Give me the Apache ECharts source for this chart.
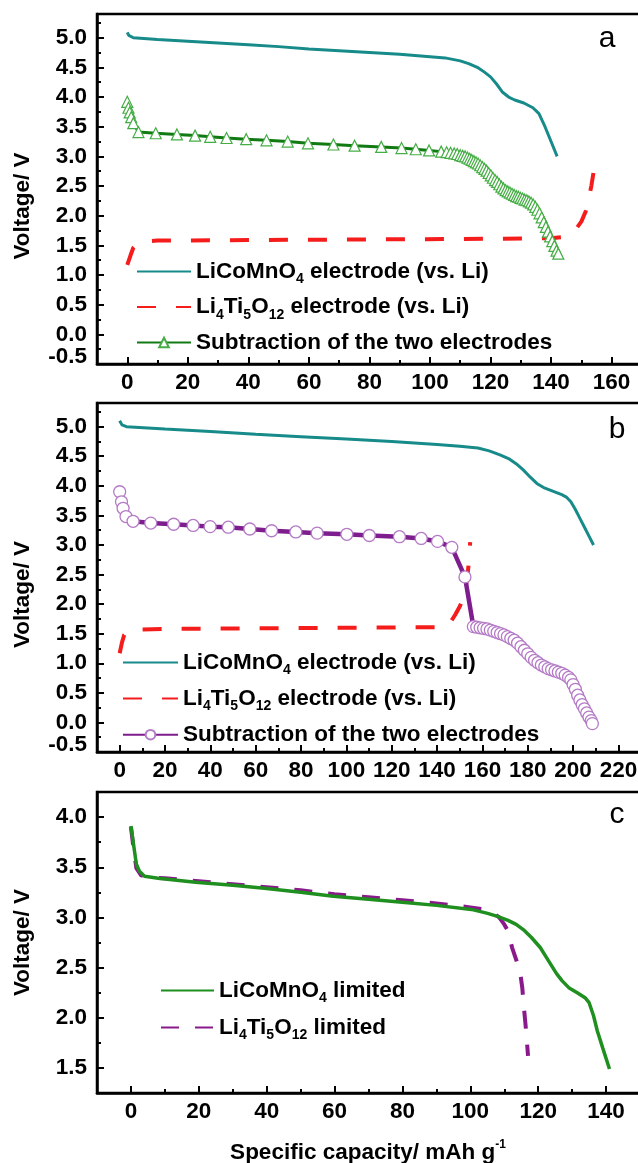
<!DOCTYPE html>
<html><head><meta charset="utf-8">
<script src="https://cdn.jsdelivr.net/npm/echarts@6/dist/echarts.min.js"></script>
<style>html,body{margin:0;padding:0;background:#fff}#c{width:638px;height:1163px}</style>
</head><body><div id="c"></div>
<script>
// ---------- tick values ----------
const aXTicks = [0,20,40,60,80,100,120,140,160];
const aXMinor = [10,30,50,70,90,110,130,150,170];
const bXTicks = [0,20,40,60,80,100,120,140,160,180,200,220];
const bXMinor = [10,30,50,70,90,110,130,150,170,190,210,230];
const cXTicks = [0,20,40,60,80,100,120,140];
const cXMinor = [10,30,50,70,90,110,130,150];
const abYTicks = [-0.5,0,0.5,1,1.5,2,2.5,3,3.5,4,4.5,5];
const abYMinor = [-0.25,0.25,0.75,1.25,1.75,2.25,2.75,3.25,3.75,4.25,4.75,5.25];
const cYTicks = [1.5,2,2.5,3,3.5,4];
const cYMinor = [1.75,2.25,2.75,3.25,3.75,4.25];

// ---------- panel a ----------
const aLiCoMnO = [[0,5.09],[0.5,5.04],[2,5.0],[10,4.97],[20,4.94],[30,4.91],[40,4.88],[50,4.85],[60,4.81],[70,4.78],[80,4.75],[90,4.72],[100,4.68],[105,4.66],[110,4.61],[113,4.56],[116,4.49],[118,4.42],[120,4.34],[122,4.22],[124,4.08],[126,4.0],[128,3.95],[131,3.9],[134,3.82],[136,3.72],[138,3.5],[140,3.25],[142,3.0]];
const aLTO = [[0,1.17],[1,1.32],[2,1.46],[3,1.52],[5,1.56],[10,1.58],[40,1.59],[80,1.6],[120,1.61],[140,1.62],[144,1.64],[146,1.68],[148,1.76],[150,1.9],[151.5,2.08],[152.5,2.3],[153.3,2.5],[154,2.72]];
const aSub = [[0,3.92],[0.4,3.82],[0.8,3.74],[1.3,3.66],[2,3.56],[3.7,3.41],[9.4,3.39],[16.4,3.37],[22.4,3.35],[27.4,3.33],[32.8,3.31],[39.3,3.29],[46,3.27],[53,3.25],[59.7,3.22],[68.1,3.2],[75.1,3.18],[83.9,3.16],[90.6,3.14],[95.3,3.12],[99.7,3.1],[103.7,3.08],[105.5,3.07],[106.8,3.06],[108,3.05],[109,3.04],[110,3.02],[110.8,3.01],[111.6,3.0],[112.4,2.98],[113.1,2.96],[113.8,2.94],[114.5,2.92],[115.2,2.9],[115.9,2.88],[116.6,2.85],[117.3,2.82],[118,2.79],[118.7,2.76],[119.4,2.72],[120.1,2.68],[120.8,2.64],[121.5,2.6],[122.2,2.57],[122.9,2.53],[123.6,2.49],[124.3,2.46],[125,2.43],[125.7,2.41],[126.4,2.39],[127.1,2.37],[127.8,2.35],[128.5,2.33],[129.2,2.32],[129.9,2.3],[130.6,2.29],[131.3,2.27],[132,2.26],[132.7,2.24],[133.4,2.22],[134.1,2.19],[134.8,2.15],[135.5,2.1],[136.2,2.04],[136.9,1.97],[137.6,1.89],[138.3,1.81],[139,1.73],[139.7,1.65],[140.4,1.57],[141.1,1.49],[141.8,1.41],[142.4,1.36]];

// ---------- panel b ----------
const bLiCoMnO = [[0,5.1],[1,5.03],[3,5.0],[20,4.96],[40,4.92],[60,4.87],[80,4.83],[100,4.79],[120,4.75],[140,4.7],[150,4.67],[158,4.64],[163,4.59],[168,4.52],[172,4.45],[175,4.37],[178,4.27],[181,4.15],[184,4.04],[187,3.97],[191,3.91],[195,3.85],[197,3.81],[199,3.73],[201,3.6],[203,3.45],[205,3.3],[207,3.15],[209,3.0]];
const bLTO = [[0,1.17],[1,1.35],[2,1.48],[4,1.55],[8,1.57],[20,1.58],[60,1.59],[100,1.6],[140,1.61],[144,1.62],[146,1.7],[148,1.82],[150,1.96],[151.5,2.1],[152.7,2.3],[153.6,2.55],[154.2,2.8],[154.6,3.05]];
const bSub = [[0,3.9],[0.8,3.73],[1.5,3.62],[2.8,3.48],[5.9,3.4],[13.7,3.37],[23.8,3.35],[32.4,3.33],[39.9,3.31],[47.9,3.3],[57.4,3.27],[67,3.24],[77.7,3.22],[87.1,3.2],[100.2,3.18],[110.1,3.16],[123.4,3.14],[133,3.11],[140.2,3.06],[146.5,2.96],[152.3,2.46],[156,1.62],[157.5,1.61],[159,1.6],[160.5,1.59],[162,1.58],[163.5,1.56],[165,1.54],[166.5,1.52],[168,1.5],[169.5,1.48],[171,1.45],[172.5,1.42],[174,1.39],[175.5,1.34],[177,1.28],[178.5,1.22],[180,1.16],[181.5,1.1],[183,1.05],[184.5,1.01],[186,0.97],[187.5,0.94],[189,0.91],[190.5,0.89],[192,0.87],[193.5,0.85],[195,0.83],[196.5,0.8],[198,0.76],[199,0.72],[200,0.64],[201,0.56],[202,0.46],[203,0.38],[204,0.3],[205,0.23],[206,0.16],[207,0.09],[208,0.03],[208.5,-0.02]];

// ---------- panel c ----------
const cLiCoMnO = [[0,3.91],[0.8,3.72],[1.6,3.53],[2.5,3.46],[4,3.41],[8,3.39],[19,3.35],[30,3.32],[39.3,3.29],[50,3.25],[59.6,3.21],[70,3.18],[79.9,3.15],[90,3.12],[100.3,3.08],[105.1,3.04],[108,3.01],[111.1,2.97],[113.5,2.93],[115.9,2.87],[118,2.8],[120.6,2.7],[123,2.57],[125.4,2.44],[127,2.37],[129,2.3],[131.5,2.25],[133.8,2.2],[135,2.15],[136.3,2.02],[137.4,1.87],[139,1.7],[141,1.49]];
const cLTO = [[0,3.9],[0.8,3.68],[1.6,3.49],[3,3.42],[5,3.4],[10,3.39],[20,3.36],[30,3.33],[40,3.3],[50,3.27],[60,3.23],[70,3.2],[80,3.17],[90,3.14],[100,3.1],[104,3.08],[106.5,3.05],[108.5,3.0],[110,2.93],[111,2.87],[112.3,2.7],[113.5,2.58],[114.6,2.47],[115.3,2.3],[115.8,2.1],[116.4,1.88],[117,1.62]];

const FONT = 'Liberation Sans';
const FS = 22.5;
const TEAL = '#178a8a', RED = '#f51c1c', DKGREEN = '#127a12', LTGREEN = '#45ad45',
      PURPLE = '#7d1d8e', LTPURPLE = '#b47ac6', CGREEN = '#1f8f1f', CPURPLE = '#8a1a8c';

const main = {fontFamily: FONT, fontSize: FS, fontWeight: 'bold', color: '#000', lineHeight: 30};
const sub = {fontFamily: FONT, fontSize: 14, fontWeight: 'bold', color: '#000', verticalAlign: 'bottom'};
const legendRich = {m: main, s: sub};
const legendText = {
  a1: '{m|LiCoMnO}{s|4}{m| electrode (vs. Li)}',
  a2: '{m|Li}{s|4}{m|Ti}{s|5}{m|O}{s|12}{m| electrode (vs. Li)}',
  a3: '{m|Subtraction of the two electrodes}',
  c1: '{m|LiCoMnO}{s|4}{m| limited}',
  c2: '{m|Li}{s|4}{m|Ti}{s|5}{m|O}{s|12}{m| limited}'
};
legendText.b1 = legendText.a1; legendText.b2 = legendText.a2; legendText.b3 = legendText.a3;

const grids = [
  {left: 97, top: 14, width: 560, height: 350},
  {left: 97, top: 403, width: 560, height: 349},
  {left: 97, top: 792, width: 560, height: 301}
].map(g => Object.assign(g, {show: true, borderColor: '#000', borderWidth: 2.5,
  backgroundColor: 'transparent', outerBoundsMode: 'none', containLabel: false}));

const labelStyle = {fontFamily: FONT, fontSize: FS, fontWeight: 'bold', color: '#000'};

function xMain(gi, min, max, ticks, extra) {
  return Object.assign({
    gridIndex: gi, type: 'value', min, max, position: 'bottom',
    axisLine: {show: true, onZero: false, lineStyle: {color: '#000', width: 2.5}},
    axisTick: {show: true, inside: true, length: 7, customValues: ticks, lineStyle: {color: '#000', width: 2}},
    axisLabel: Object.assign({show: true, customValues: ticks, margin: 7, hideOverlap: false}, labelStyle),
    splitLine: {show: false}
  }, extra || {});
}
function xMinor(gi, min, max, ticks) {
  return {
    gridIndex: gi, type: 'value', min, max, position: 'bottom', offset: 0,
    axisLine: {show: false, onZero: false},
    axisTick: {show: true, inside: true, length: 4, customValues: ticks, lineStyle: {color: '#000', width: 2}},
    axisLabel: {show: false}, splitLine: {show: false}
  };
}
// main y axis: major ticks + labels that lie above the axis minimum
function yMain(gi, min, max, ticks) {
  return {
    gridIndex: gi, type: 'value', min, max, position: 'left',
    axisLine: {show: true, onZero: false, lineStyle: {color: '#000', width: 2.5}},
    axisTick: {show: true, inside: true, length: 7, customValues: ticks, lineStyle: {color: '#000', width: 2}},
    axisLabel: Object.assign({
      show: true, customValues: ticks.filter(v => v > min), margin: 10,
      showMinLabel: true, showMaxLabel: true, hideOverlap: false,
      formatter: v => v.toFixed(1)
    }, labelStyle),
    splitLine: {show: false},
    name: 'Voltage/ V', nameLocation: 'middle', nameGap: 63,
    nameTextStyle: Object.assign({padding: gi < 2 ? [0, 34, 0, 0] : [0, 0, 0, 0]}, labelStyle)
  };
}
// companion y axis: minor ticks + the label sitting on the axis minimum (drawn raised, as in the figure)
function yMinor(gi, min, max, minor, ticks) {
  const minLabels = ticks.filter(v => v === min);
  return {
    gridIndex: gi, type: 'value', min, max, position: 'left', offset: 0,
    axisLine: {show: false, onZero: false},
    axisTick: {show: true, inside: true, length: 4, customValues: minor, lineStyle: {color: '#000', width: 2}},
    axisLabel: minLabels.length ? Object.assign({
      show: true, customValues: minLabels, margin: 10, showMinLabel: true,
      formatter: v => '{lo|' + v.toFixed(1) + '}',
      rich: {lo: Object.assign({padding: [0, 0, 14, 0]}, labelStyle)}
    }, labelStyle) : {show: false},
    splitLine: {show: false}
  };
}

function lineSeries(name, p, data, color, width, opts) {
  return Object.assign({
    name, type: 'line', xAxisIndex: 2 * p, yAxisIndex: 2 * p, data,
    showSymbol: false, symbol: 'none', smooth: false,
    lineStyle: {color, width}, itemStyle: {color}, z: 2
  }, opts || {});
}
const noSym = {color: 'rgba(0,0,0,0)', borderColor: 'rgba(0,0,0,0)', borderWidth: 0};

const option = {
  animation: false,
  backgroundColor: '#fff',
  grid: grids,
  xAxis: [
    xMain(0, -10, 175, aXTicks), xMinor(0, -10, 175, aXMinor),
    xMain(1, -10, 237, bXTicks), xMinor(1, -10, 237, bXMinor),
    xMain(2, -10, 155, cXTicks, {
      name: '{m|Specific capacity/ mAh g}{sup|-1}', nameLocation: 'middle', nameGap: 46,
      nameTextStyle: Object.assign({padding: [0, 18, 0, 0], rich: {
        m: Object.assign({lineHeight: 28}, labelStyle),
        sup: {fontFamily: FONT, fontSize: 12, fontWeight: 'bold', color: '#000', verticalAlign: 'top'}
      }}, labelStyle)
    }), xMinor(2, -10, 155, cXMinor)
  ],
  yAxis: [
    yMain(0, -0.5, 5.4, abYTicks), yMinor(0, -0.5, 5.4, abYMinor, abYTicks),
    yMain(1, -0.5, 5.4, abYTicks), yMinor(1, -0.5, 5.4, abYMinor, abYTicks),
    yMain(2, 1.25, 4.25, cYTicks), yMinor(2, 1.25, 4.25, cYMinor, cYTicks)
  ],
  legend: [
    {orient: 'vertical', left: 136, top: 260, itemWidth: 54, itemHeight: 12, itemGap: 9, padding: 0,
     selectedMode: false, data: [{name: 'a1', itemStyle: noSym}, {name: 'a2', itemStyle: noSym}, 'a3'],
     formatter: n => legendText[n], textStyle: {rich: legendRich}},
    {orient: 'vertical', left: 122, top: 651, itemWidth: 55, itemHeight: 12, itemGap: 9.6, padding: 0,
     selectedMode: false, data: [{name: 'b1', itemStyle: noSym}, {name: 'b2', itemStyle: noSym}, 'b3'],
     formatter: n => legendText[n], textStyle: {rich: legendRich}},
    {orient: 'vertical', left: 160, top: 979, itemWidth: 53, itemHeight: 12, itemGap: 10.6, padding: 0,
     selectedMode: false, data: [{name: 'c1', itemStyle: noSym}, {name: 'c2', itemStyle: noSym}],
     formatter: n => legendText[n], textStyle: {rich: legendRich}}
  ],
  graphic: [
    {type: 'text', x: 607, y: 39, style: {text: 'a', font: '30px "Liberation Sans"', fill: '#000', textAlign: 'center', textVerticalAlign: 'middle'}},
    {type: 'text', x: 617, y: 430, style: {text: 'b', font: '30px "Liberation Sans"', fill: '#000', textAlign: 'center', textVerticalAlign: 'middle'}},
    {type: 'text', x: 617, y: 815, style: {text: 'c', font: '30px "Liberation Sans"', fill: '#000', textAlign: 'center', textVerticalAlign: 'middle'}}
  ],
  series: [
    lineSeries('a1', 0, aLiCoMnO, TEAL, 3),
    lineSeries('a2', 0, aLTO, RED, 4, {lineStyle: {color: RED, width: 4, type: [19, 20]}}),
    lineSeries('a3', 0, aSub, DKGREEN, 3, {
      showSymbol: true, symbol: 'triangle', symbolSize: 11,
      itemStyle: {color: '#fff', borderColor: LTGREEN, borderWidth: 1.2}, z: 3
    }),
    lineSeries('b1', 1, bLiCoMnO, TEAL, 3),
    lineSeries('b2', 1, bLTO, RED, 4, {lineStyle: {color: RED, width: 4, type: [19, 20]}}),
    lineSeries('b3', 1, bSub, PURPLE, 4.5, {
      showSymbol: true, symbol: 'circle', symbolSize: 12,
      itemStyle: {color: '#fff', borderColor: LTPURPLE, borderWidth: 1.3}, z: 3
    }),
    lineSeries('c2', 2, cLTO, CPURPLE, 4, {lineStyle: {color: CPURPLE, width: 4, type: [18, 16]}}),
    lineSeries('c1', 2, cLiCoMnO, CGREEN, 3.5, {z: 3})
  ]
};

const chart = echarts.init(document.getElementById('c'), null, {renderer: 'canvas'});
chart.setOption(option);
</script></body></html>
